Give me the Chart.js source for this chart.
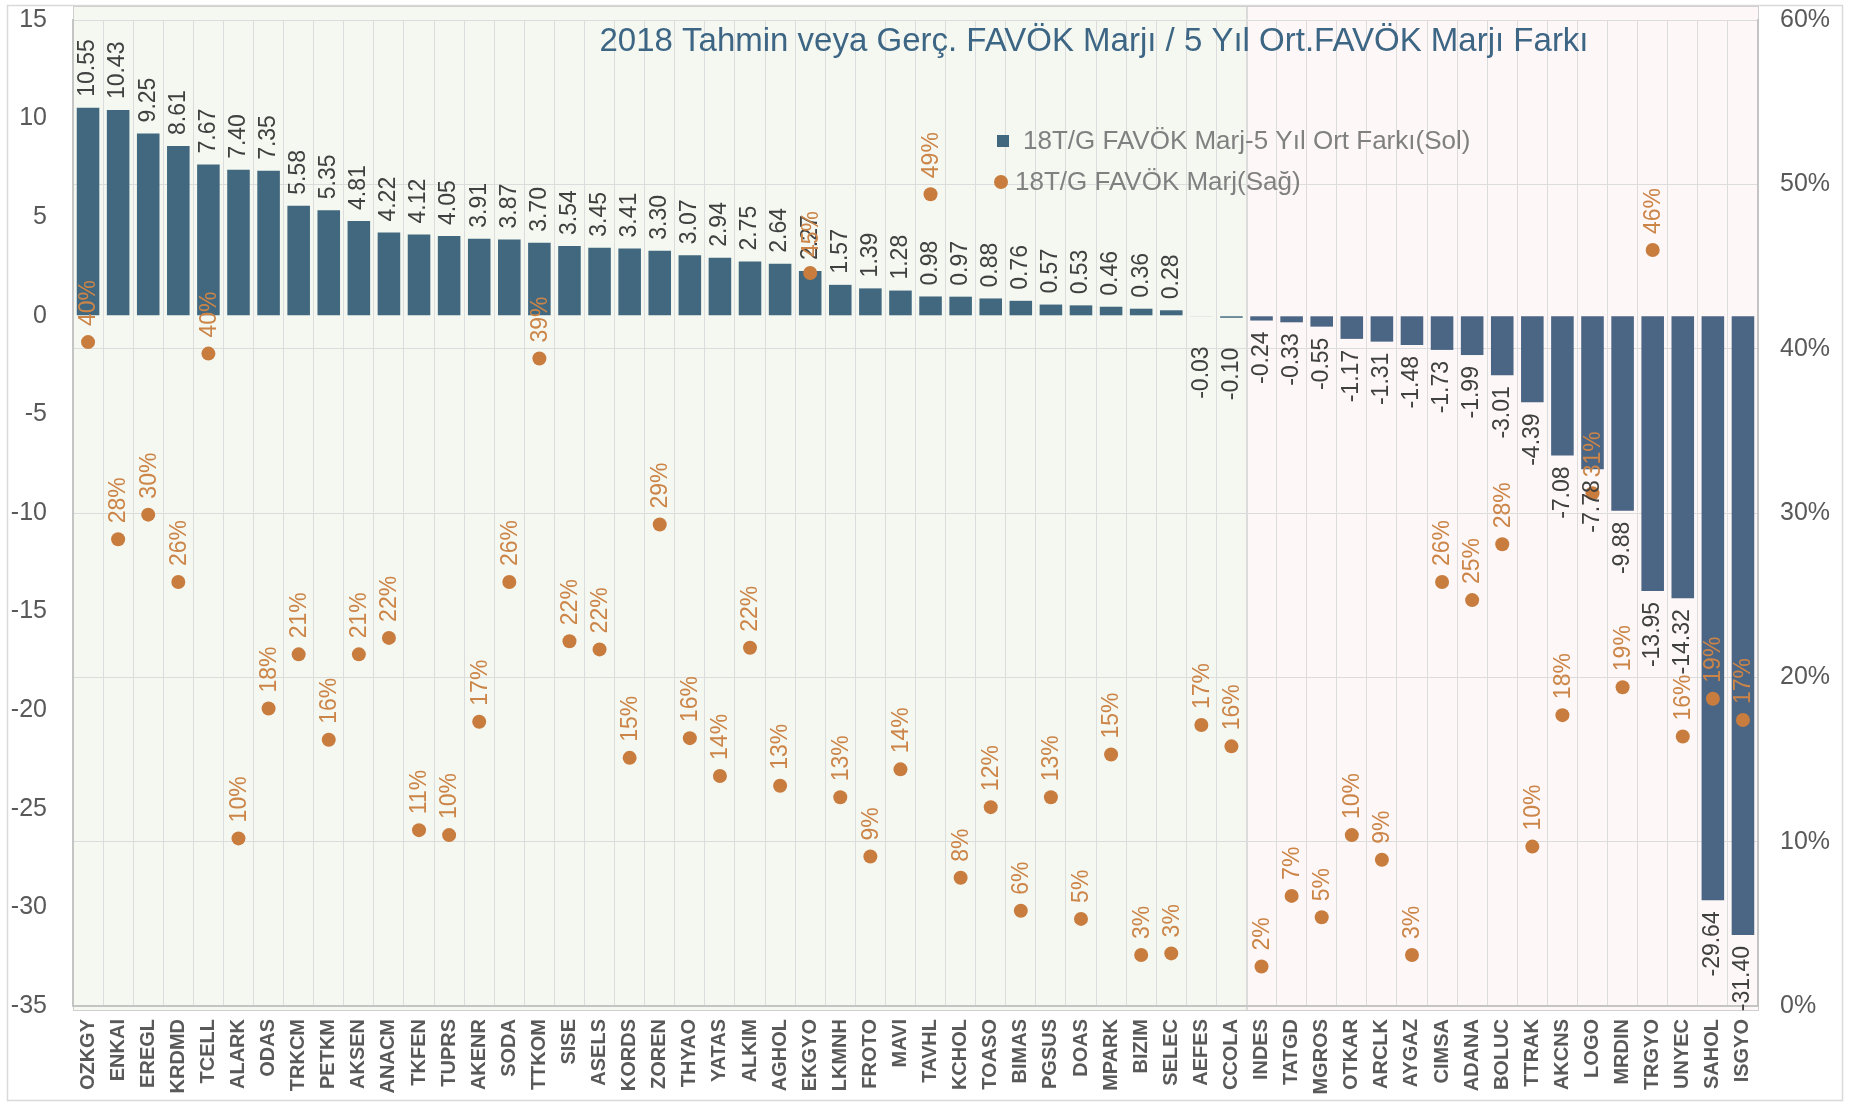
<!DOCTYPE html>
<html><head><meta charset="utf-8">
<script src="https://cdn.jsdelivr.net/npm/chart.js@4.4.1/dist/chart.umd.min.js"></script>
<style>html,body{margin:0;padding:0;background:#fff;}canvas{display:block;}</style>
</head><body>
<canvas id="c" width="1854" height="1102"></canvas>
<script>
const categories = ['OZKGY','ENKAI','EREGL','KRDMD','TCELL','ALARK','ODAS','TRKCM','PETKM','AKSEN','ANACM','TKFEN','TUPRS','AKENR','SODA','TTKOM','SISE','ASELS','KORDS','ZOREN','THYAO','YATAS','ALKIM','AGHOL','EKGYO','LKMNH','FROTO','MAVI','TAVHL','KCHOL','TOASO','BIMAS','PGSUS','DOAS','MPARK','BIZIM','SELEC','AEFES','CCOLA','INDES','TATGD','MGROS','OTKAR','ARCLK','AYGAZ','CIMSA','ADANA','BOLUC','TTRAK','AKCNS','LOGO','MRDIN','TRGYO','UNYEC','SAHOL','ISGYO'];
const marginDiff = [10.55,10.43,9.25,8.61,7.67,7.40,7.35,5.58,5.35,4.81,4.22,4.12,4.05,3.91,3.87,3.70,3.54,3.45,3.41,3.30,3.07,2.94,2.75,2.64,2.27,1.57,1.39,1.28,0.98,0.97,0.88,0.76,0.57,0.53,0.46,0.36,0.28,-0.03,-0.10,-0.24,-0.33,-0.55,-1.17,-1.31,-1.48,-1.73,-1.99,-3.01,-4.39,-7.08,-7.78,-9.88,-13.95,-14.32,-29.64,-31.40];
const marginPct = [40.4,28.4,29.9,25.8,39.7,10.2,18.1,21.4,16.2,21.4,22.4,10.7,10.4,17.3,25.8,39.4,22.2,21.7,15.1,29.3,16.3,14.0,21.8,13.4,44.6,12.7,9.1,14.4,49.4,7.8,12.1,5.8,12.7,5.3,15.3,3.1,3.2,17.1,15.8,2.4,6.7,5.4,10.4,8.9,3.1,25.8,24.7,28.1,9.7,17.7,31.2,19.4,46.0,16.4,18.7,17.4];
const groupSizes = [39, 17];
const titleText = '2018 Tahmin veya Gerç. FAVÖK Marjı / 5 Yıl Ort.FAVÖK Marjı Farkı';
const seriesNames = ['18T/G FAVÖK Marj-5 Yıl Ort Farkı(Sol)', '18T/G FAVÖK Marj(Sağ)'];

const FONT = '"Liberation Sans", Arial, sans-serif';
const BAR_A = '#41687f', BAR_B = '#4b6584';
const DOT = '#c87c3e', DOT_TXT = '#cc8548';
const GRID = '#dcdcdc', AXIS = '#c4c4c4', TICK = '#595959';

const barColors = categories.map((c,i)=> i < groupSizes[0] ? BAR_A : BAR_B);

const regionPlugin = {
  id:'regions',
  beforeDraw(chart){
    const {ctx, chartArea:a, scales:{x}} = chart;
    const split = (x.getPixelForValue(groupSizes[0]-1) + x.getPixelForValue(groupSizes[0]))/2;
    ctx.save();
    ctx.fillStyle='#ffffff'; ctx.fillRect(0,0,chart.width,chart.height);
    ctx.strokeStyle='#d9d9d9'; ctx.lineWidth=1.5;
    ctx.strokeRect(7.5,5.5,chart.width-19,chart.height-7);
    const top = a.top-14, bottom = a.bottom+4;
    ctx.fillStyle='#f5f8f1'; ctx.fillRect(a.left, top, split-a.left, bottom-top);
    ctx.fillStyle='#fdf7f7'; ctx.fillRect(split, top, a.right-split, bottom-top);
    ctx.strokeStyle='#cfcfcf'; ctx.lineWidth=1;
    ctx.strokeRect(a.left+0.5, top+0.5, split-a.left, bottom-top);
    ctx.strokeRect(split+0.5, top+0.5, a.right-split, bottom-top);
    ctx.restore();
  }
};

const labelPlugin = {
  id:'labels',
  afterDatasetsDraw(chart){
    const {ctx, chartArea:a} = chart;
    const barMeta = chart.getDatasetMeta(0), dotMeta = chart.getDatasetMeta(1);
    ctx.save();
    ctx.font = '23px '+FONT; ctx.textBaseline='middle';
    barMeta.data.forEach((bar,i)=>{
      const v = marginDiff[i]; const txt = v.toFixed(2);
      const w = ctx.measureText(txt).width;
      ctx.save(); ctx.translate(bar.x, bar.y); ctx.rotate(-Math.PI/2);
      ctx.fillStyle='#404040';
      if (v >= 0){ ctx.textAlign='left'; ctx.fillText(txt, 11, 0); }
      else {
        let off = Math.abs(v) < 0.2 ? 30 : 11;
        if (bar.y+off+w > a.bottom+10) off = a.bottom+10-bar.y-w;
        ctx.textAlign='right'; ctx.fillText(txt, -off, 0);
      }
      ctx.restore();
    });
    dotMeta.data.forEach((pt,i)=>{
      const txt = Math.round(marginPct[i])+'%';
      ctx.save(); ctx.translate(pt.x, pt.y); ctx.rotate(-Math.PI/2);
      ctx.fillStyle=DOT_TXT; ctx.textAlign='left';
      ctx.fillText(txt, 16, 1);
      ctx.restore();
    });
    ctx.restore();
  },
  afterDraw(chart){
    const {ctx} = chart;
    ctx.save();
    ctx.font = '33px '+FONT; ctx.fillStyle='#3d6584'; ctx.textAlign='center'; ctx.textBaseline='middle';
    ctx.fillText(titleText, 1094, 42);
    ctx.font = '26px '+FONT; ctx.fillStyle='#808080'; ctx.textAlign='left';
    ctx.fillStyle = BAR_A; ctx.fillRect(997, 135, 12, 12);
    ctx.fillStyle = '#808080'; ctx.fillText(chart.data.datasets[0].label, 1023, 142);
    ctx.fillStyle = DOT; ctx.beginPath(); ctx.arc(1001, 182, 7, 0, Math.PI*2); ctx.fill();
    ctx.fillStyle = '#808080'; ctx.fillText(chart.data.datasets[1].label, 1015, 183);
    ctx.restore();
  }
};

new Chart(document.getElementById('c'), {
  type:'bar',
  data:{
    labels: categories,
    datasets:[
      {type:'bar', label: seriesNames[0], data: marginDiff, yAxisID:'y', backgroundColor: barColors,
       barPercentage:0.75, categoryPercentage:1.0, order:2},
      {type:'line', label: seriesNames[1], data: marginPct, yAxisID:'y1', showLine:false,
       pointRadius:7, pointHoverRadius:7, pointBackgroundColor:DOT, pointBorderColor:DOT, pointBorderWidth:0, order:1}
    ]
  },
  options:{
    responsive:false, animation:false,
    layout:{padding:{top:20,left:7,right:0,bottom:0}},
    plugins:{legend:{display:false}, title:{display:false}, tooltip:{enabled:false}},
    scales:{
      x:{
        grid:{offset:true, color:GRID, drawTicks:false},
        border:{color:AXIS, width:2},
        ticks:{autoSkip:false, maxRotation:90, minRotation:90, padding:13, color:TICK,
               font:{family:FONT, size:20, weight:'bold'}},
        afterFit(s){ s.height = 96; s.paddingLeft=0; s.paddingRight=0; }
      },
      y:{
        position:'left', min:-35, max:15,
        ticks:{stepSize:5, padding:26, color:TICK, font:{family:FONT, size:25}},
        grid:{drawOnChartArea:false, drawTicks:false},
        border:{color:AXIS, width:2},
        afterFit(s){ s.width = 66; s.paddingTop=0; s.paddingBottom=0; }
      },
      y1:{
        position:'right', min:0, max:60,
        ticks:{stepSize:10, padding:22, color:TICK, font:{family:FONT, size:25}, callback:v=>v+'%'},
        grid:{color:GRID, drawTicks:false},
        border:{color:AXIS, width:2},
        afterFit(s){ s.width = 96; s.paddingTop=0; s.paddingBottom=0; }
      }
    }
  },
  plugins:[regionPlugin, labelPlugin]
});
</script>
</body></html>
